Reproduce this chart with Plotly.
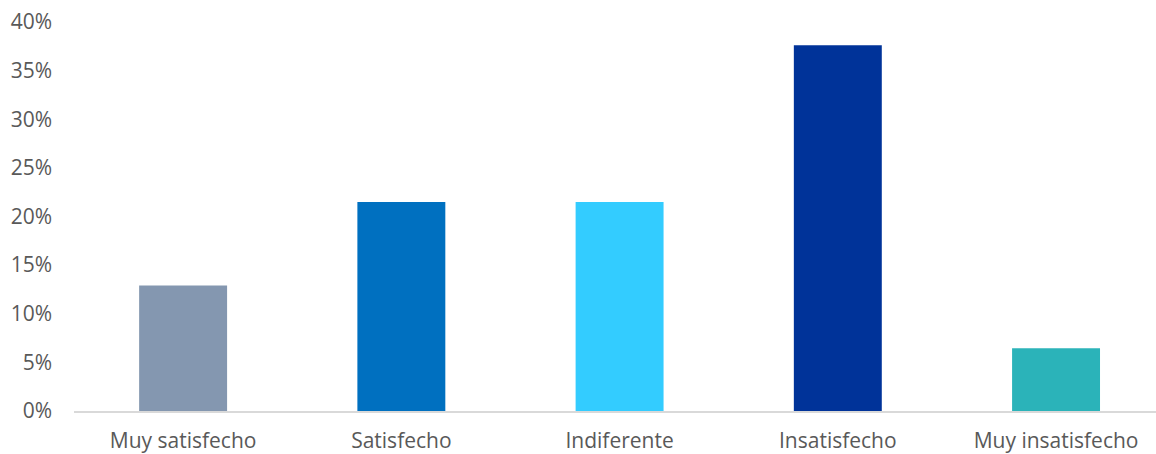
import plotly.graph_objects as go

categories = ["Muy satisfecho", "Satisfecho", "Indiferente", "Insatisfecho", "Muy insatisfecho"]
values = [0.129, 0.215, 0.215, 0.376, 0.0645]
colors = ["#8497B0", "#0070C0", "#33CCFF", "#003399", "#2BB3B9"]
y_ticks = [0, 0.05, 0.10, 0.15, 0.20, 0.25, 0.30, 0.35, 0.40]
y_tick_labels = ["0%", "5%", "10%", "15%", "20%", "25%", "30%", "35%", "40%"]

fig = go.Figure(go.Bar(
    x=categories, y=values, marker=dict(color=colors, line=dict(width=0)),
    width=0.403, hoverinfo="x+y",
))

font_family = "Open Sans, Noto Sans, sans-serif"
fig.update_layout(
    width=1156, height=454,
    margin=dict(l=74, r=0, t=22, b=43),
    paper_bgcolor="white", plot_bgcolor="white",
    showlegend=False,
    font=dict(family=font_family, size=21, color="#595959"),
)
fig.update_xaxes(
    range=[-0.5, 4.458], showgrid=False, zeroline=False,
    showline=True, linecolor="#D9D9D9", linewidth=2,
    ticks="", tickfont=dict(size=21, color="#595959"),
    ticklabelstandoff=10,
)
fig.update_yaxes(
    range=[0, 0.4], showgrid=False, zeroline=False, showline=False,
    tickvals=y_ticks, ticktext=y_tick_labels,
    ticks="", tickfont=dict(size=21, color="#595959"),
    ticklabelstandoff=21,
)

fig.write_html(
    "out.html",
    config={"displayModeBar": False},
    post_script="document.body.style.margin='0';document.body.style.overflow='hidden';",
)
